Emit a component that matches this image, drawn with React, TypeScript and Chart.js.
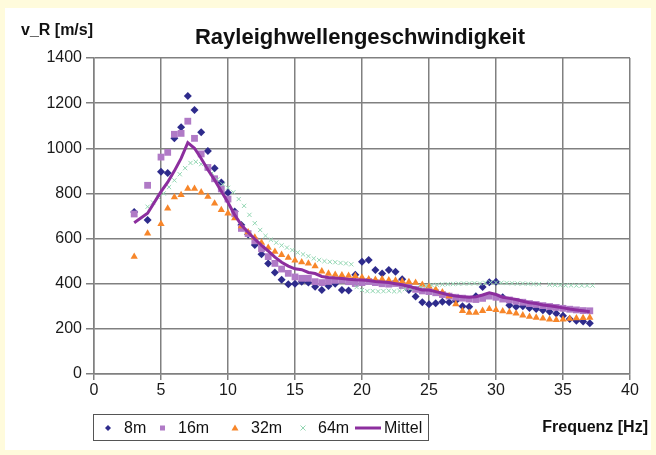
import { useEffect, useRef } from 'react';
import { Chart, registerables } from 'chart.js';

Chart.register(...registerables);

// Frequencies (Hz) for 8m, 16m, 32m and Mittel
const freq = [3, 4, 5, 5.5, 6, 6.5, 7, 7.5, 8, 8.5, 9, 9.5, 10, 10.5, 11, 11.5, 12, 12.5, 13, 13.5, 14, 14.5, 15, 15.5, 16, 16.5, 17, 17.5, 18, 18.5, 19, 19.5, 20, 20.5, 21, 21.5, 22, 22.5, 23, 23.5, 24, 24.5, 25, 25.5, 26, 26.5, 27, 27.5, 28, 28.5, 29, 29.5, 30, 30.5, 31, 31.5, 32, 32.5, 33, 33.5, 34, 34.5, 35, 35.5, 36, 36.5, 37];

const v8m = [718, 682, 896, 890, 1044, 1093, 1232, 1170, 1071, 988, 911, 848, 803, 720, 660, 618, 572, 530, 490, 450, 418, 398, 400, 409, 405, 387, 372, 390, 400, 372, 370, 440, 497, 505, 461, 445, 461, 453, 420, 372, 343, 318, 309, 313, 320, 318, 325, 300, 298, 345, 385, 406, 409, 340, 305, 298, 300, 292, 288, 282, 276, 268, 258, 244, 236, 233, 225];

const v16m = [709, 836, 961, 982, 1062, 1066, 1120, 1044, 975, 915, 865, 820, 775, 710, 645, 622, 590, 555, 520, 490, 465, 446, 430, 424, 424, 409, 405, 410, 415, 416, 409, 401, 405, 410, 405, 400, 398, 401, 392, 387, 375, 368, 365, 360, 352, 345, 340, 336, 332, 330, 335, 345, 340, 332, 328, 322, 318, 312, 308, 303, 299, 295, 291, 287, 284, 281, 280];

const v32m = [520, 623, 665, 734, 783, 793, 821, 821, 805, 786, 756, 727, 712, 690, 655, 628, 605, 582, 560, 542, 528, 515, 503, 495, 490, 478, 455, 445, 440, 438, 436, 434, 428, 420, 418, 420, 416, 414, 410, 408, 405, 396, 388, 375, 362, 345, 310, 280, 272, 272, 280, 288, 284, 278, 274, 268, 260, 254, 250, 246, 242, 240, 242, 245, 247, 248, 250];

const vMittel = [670, 712, 808, 850, 900, 955, 1025, 1000, 955, 905, 860, 810, 760, 705, 660, 628, 598, 570, 545, 518, 495, 478, 466, 462, 450, 445, 432, 428, 425, 423, 420, 418, 416, 414, 410, 408, 405, 400, 395, 388, 380, 372, 372, 365, 358, 350, 345, 342, 340, 342, 350, 360, 352, 340, 335, 330, 322, 316, 312, 306, 302, 298, 293, 288, 284, 280, 276];

// 64m is sampled more densely
const freq64 = [4.0, 4.4, 4.8, 5.2, 5.6, 6.0, 6.4, 6.8, 7.2, 7.6, 8.0, 8.4, 8.8, 9.2, 9.6, 10.0, 10.4, 10.8, 11.2, 11.6, 12.0, 12.4, 12.8, 13.2, 13.6, 14.0, 14.4, 14.8, 15.2, 15.6, 16.0, 16.4, 16.8, 17.2, 17.6, 18.0, 18.4, 18.8, 19.2, 19.6, 20.0, 20.4, 20.8, 21.2, 21.6, 22.0, 22.4, 22.8, 23.2, 23.6, 24.0, 24.4, 24.8, 25.2, 25.6, 26.0, 26.4, 26.8, 27.2, 27.6, 28.0, 28.4, 28.8, 29.2, 29.6, 30.0, 30.4, 30.8, 31.2, 31.6, 32.0, 32.4, 32.8, 33.2, 34.0, 34.4, 34.8, 35.2, 35.6, 36.0, 36.4, 36.8, 37.2];

const v64m = [741, 760, 782, 800, 828, 858, 885, 912, 935, 940, 930, 916, 890, 862, 840, 825, 805, 775, 745, 705, 668, 638, 612, 595, 582, 570, 560, 549, 538, 530, 522, 512, 505, 500, 497, 495, 492, 490, 486, 385, 372, 367, 368, 366, 367, 369, 366, 368, 376, 378, 380, 385, 390, 394, 395, 397, 398, 399, 400, 401, 401, 402, 401, 404, 406, 405, 404, 403, 402, 401, 401, 400, 399, 398, 396, 395, 394, 393, 393, 392, 392, 392, 392];

const seriesNames = ['8m', '16m', '32m', '64m', 'Mittel'];
const xTicks = [0, 5, 10, 15, 20, 25, 30, 35, 40];
const yTicks = [0, 200, 400, 600, 800, 1000, 1200, 1400];

const titleText = 'Rayleighwellengeschwindigkeit';
const yTitle = 'v_R [m/s]';
const xTitle = 'Frequenz [Hz]';

const C8 = '#2e2b8c';
const C16 = '#b07ac6';
const C32 = '#f7862a';
const C64 = '#92d6b2';
const CM = '#8c2e9e';
const GRID = '#808080';
const FONT = "'Liberation Sans', Arial, sans-serif";

const pts = (xs: number[], ys: number[]) => xs.map((x, i) => ({ x, y: ys[i] }));

const decor = {
  id: 'decor',
  afterDraw(chart: any) {
    const ctx = chart.ctx as CanvasRenderingContext2D;
    ctx.save();
    ctx.fillStyle = '#111';
    ctx.textBaseline = 'middle';
    ctx.font = `bold 22px ${FONT}`;
    ctx.textAlign = 'center';
    ctx.fillText(titleText, 360, 38);
    ctx.font = `bold 16px ${FONT}`;
    ctx.textAlign = 'left';
    ctx.fillText(yTitle, 21, 31);
    ctx.textAlign = 'right';
    ctx.fillText(xTitle, 648, 428);

    // legend box
    ctx.strokeStyle = '#555';
    ctx.lineWidth = 1;
    ctx.strokeRect(93.5, 414.5, 335, 26);
    const cy = 428;
    ctx.font = `16px ${FONT}`;
    ctx.textAlign = 'left';
    // 8m diamond
    ctx.fillStyle = C8;
    ctx.beginPath();
    ctx.moveTo(108, cy - 3); ctx.lineTo(111, cy); ctx.lineTo(108, cy + 3); ctx.lineTo(105, cy);
    ctx.closePath(); ctx.fill();
    // 16m square
    ctx.fillStyle = C16;
    ctx.fillRect(160, cy - 2.5, 5, 5);
    // 32m triangle
    ctx.fillStyle = C32;
    ctx.beginPath();
    ctx.moveTo(235, cy - 3.5); ctx.lineTo(238.5, cy + 2.5); ctx.lineTo(231.5, cy + 2.5);
    ctx.closePath(); ctx.fill();
    // 64m cross
    ctx.strokeStyle = C64;
    ctx.lineWidth = 1;
    ctx.beginPath();
    ctx.moveTo(300.5, cy - 2.5); ctx.lineTo(305.5, cy + 2.5);
    ctx.moveTo(305.5, cy - 2.5); ctx.lineTo(300.5, cy + 2.5);
    ctx.stroke();
    // Mittel line
    ctx.strokeStyle = CM;
    ctx.lineWidth = 3;
    ctx.beginPath();
    ctx.moveTo(355, cy); ctx.lineTo(381, cy);
    ctx.stroke();
    ctx.fillStyle = '#111';
    ctx.fillText(seriesNames[0], 124, cy + 1);
    ctx.fillText(seriesNames[1], 178, cy + 1);
    ctx.fillText(seriesNames[2], 251, cy + 1);
    ctx.fillText(seriesNames[3], 318, cy + 1);
    ctx.fillText(seriesNames[4], 384, cy + 1);
    ctx.restore();
  },
};

export default function App() {
  const ref = useRef<HTMLCanvasElement>(null);
  useEffect(() => {
    document.body.style.margin = '0';
    const chart = new Chart(ref.current as HTMLCanvasElement, {
      type: 'scatter',
      data: {
        datasets: [
          {
            label: seriesNames[4],
            type: 'line',
            data: pts(freq, vMittel),
            borderColor: CM,
            backgroundColor: CM,
            borderWidth: 3,
            pointRadius: 0,
            showLine: true,
            tension: 0,
            order: 0,
          },
          {
            label: seriesNames[3],
            data: pts(freq64, v64m),
            pointStyle: 'crossRot',
            pointRadius: 3,
            borderColor: C64,
            backgroundColor: C64,
            borderWidth: 1,
            order: 1,
          },
          {
            label: seriesNames[2],
            data: pts(freq, v32m),
            pointStyle: 'triangle',
            pointRadius: 4.2,
            borderColor: C32,
            backgroundColor: C32,
            borderWidth: 0,
            order: 2,
          },
          {
            label: seriesNames[1],
            data: pts(freq, v16m),
            pointStyle: 'rect',
            pointRadius: 4.8,
            borderColor: C16,
            backgroundColor: C16,
            borderWidth: 0,
            order: 3,
          },
          {
            label: seriesNames[0],
            data: pts(freq, v8m),
            pointStyle: 'rectRot',
            pointRadius: 4,
            borderColor: C8,
            backgroundColor: C8,
            borderWidth: 0,
            order: 4,
          },
        ] as any,
      },
      options: {
        responsive: false,
        animation: false,
        events: [],
        layout: { padding: { left: 0, right: 26, top: 58, bottom: 51 } },
        plugins: {
          legend: { display: false },
          tooltip: { enabled: false },
          title: { display: false },
        },
        scales: {
          x: {
            type: 'linear',
            min: 0,
            max: 40,
            afterBuildTicks: (s: any) => {
              s.ticks = xTicks.map((v) => ({ value: v }));
            },
            afterFit: (s: any) => {
              s.height = 30;
            },
            ticks: {
              font: { family: FONT, size: 16 },
              color: '#1a1a1a',
              padding: 1,
              maxRotation: 0,
              callback: (v: any) => String(v),
            },
            grid: { color: GRID, lineWidth: 1.5, tickLength: 6 },
            border: { color: GRID, width: 1.5 },
          },
          y: {
            type: 'linear',
            min: 0,
            max: 1400,
            afterBuildTicks: (s: any) => {
              s.ticks = yTicks.map((v) => ({ value: v }));
            },
            afterFit: (s: any) => {
              s.width = 94;
            },
            ticks: {
              font: { family: FONT, size: 16 },
              color: '#1a1a1a',
              padding: 4,
              callback: (v: any) => String(v),
            },
            grid: { color: GRID, lineWidth: 1.5, tickLength: 8 },
            border: { color: GRID, width: 1.5 },
          },
        },
      },
      plugins: [decor],
    });
    return () => chart.destroy();
  }, []);
  return (
    <div style={{ position: 'relative', width: 656, height: 455, background: '#fffbdc' }}>
      <div style={{ position: 'absolute', left: 5, top: 8, width: 646, height: 442, background: '#ffffff' }} />
      <canvas ref={ref} width={656} height={455} style={{ position: 'absolute', left: 0, top: 0 }} />
    </div>
  );
}
